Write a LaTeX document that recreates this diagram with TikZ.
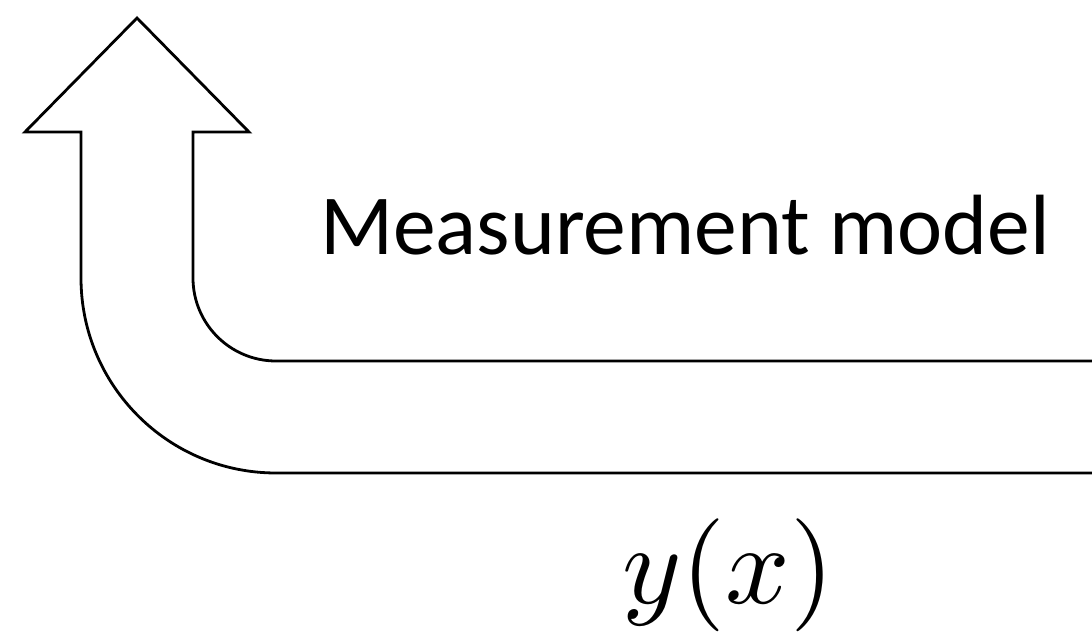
\documentclass[tikz,border=0pt]{standalone}
\usepackage{fontspec}
\setmainfont{Carlito}
\usetikzlibrary{positioning}
\tikzset{
  bentarrow/.style={
    draw=black,
    line width=2.8pt,
    line join=miter,
    fill=none
  },
  caption/.style={
    text=black,
    inner sep=0pt,
    anchor=base west,
    font=\fontsize{85.5}{100}\selectfont
  },
  signal/.style={
    text=black,
    inner sep=0pt,
    anchor=base west,
    scale=11.3,
    font=\fontsize{10}{12}\selectfont
  }
}
\begin{document}
\begin{tikzpicture}[x=1pt,y=1pt]
  \useasboundingbox (0,0) rectangle (1092,632);

  % bent arrow, open at the right edge
  \draw[bentarrow]
    (1094,159) -- (276,159) arc[start angle=270, end angle=180, radius=195]
    -- (81,500) -- (25,500) -- (137,614) -- (249,500) -- (193,500)
    -- (193,354) arc[start angle=180, end angle=270, radius=83]
    -- (1094,271);

  \node[caption] (model) at (320,377) {Measurement model};
  \node[signal] (output) at (620,29) {$y(x)$};
\end{tikzpicture}
\end{document}
